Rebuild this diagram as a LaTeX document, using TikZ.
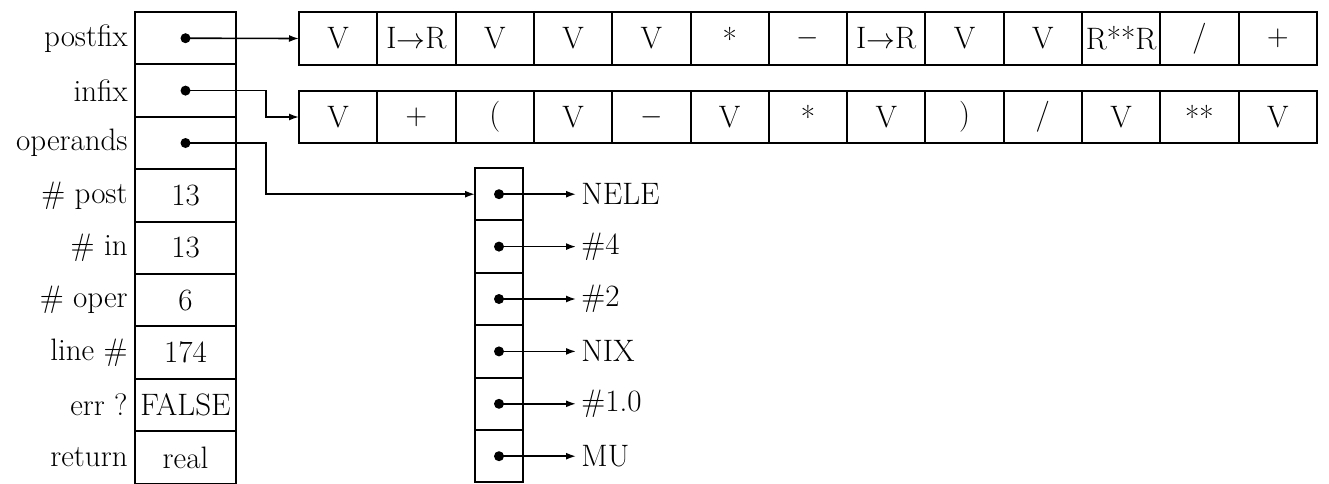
\documentclass[tikz,border=0pt]{standalone}
\usetikzlibrary{positioning,arrows.meta}
\begin{document}
\begin{tikzpicture}[%
	x=0.5pt, y=-0.5pt,
	every node/.style = {font=\fontsize{15.5}{18}\selectfont},
	cell/.style = {draw, line width=1pt, inner sep=0pt, outer sep=0pt, minimum height=26.2pt},
	slot/.style = {cell, minimum width=50.5pt},
	tok/.style = {cell, minimum width=39.15pt},
	opnd/.style = {cell, minimum width=24pt},
	fieldname/.style = {inner sep=0pt},
	target/.style = {inner sep=2.5pt, anchor=west},
	ptr/.style = {line width=0.8pt, -{Latex[length=5pt,width=3.5pt]}},
	dot/.style = {fill=black}
	]
  \clip (0,0) rectangle (1329,483);
  \coordinate (r0) at (185.5,12);
  \coordinate (p0) at (299,38.5);
  \coordinate (i0) at (299,117);
  \coordinate (o0) at (499,168);
  \coordinate (kink) at (266,0);
  % record of the expression
  \foreach \lbl/\val [count=\i, evaluate=\i as \j using int(\i-1)] in
	{postfix/{}, infix/{}, operands/{}, \# post/13, \# in/13, \# oper/6, line \#/174, err ?/FALSE, return/real}
	{
	\node [slot, below=0pt of r\j] (r\i) {\val};
	\node [fieldname, left=3.5pt of r\i] (n\i) {\lbl};
	}
  % postfix and infix token arrays
  \foreach \tk [count=\i, evaluate=\i as \j using int(\i-1)] in
	{V, I$\to$R, V, V, V, *, $-$, I$\to$R, V, V, R**R, /, $+$}
	\node [tok, right=0pt of p\j] (p\i) {\tk};
  \foreach \tk [count=\i, evaluate=\i as \j using int(\i-1)] in
	{V, $+$, {(}, V, $-$, V, *, V, {)}, /, V, **, V}
	\node [tok, right=0pt of i\j] (i\i) {\tk};
  % operand list
  \foreach \nm [count=\i, evaluate=\i as \j using int(\i-1)] in
	{NELE, \#4, \#2, NIX, \#1.0, MU}
	{
	\node [opnd, below=0pt of o\j] (o\i) {};
	\node [target, right=26.5pt of o\i] (t\i) {\nm};
	\draw [ptr] (o\i.center) -- (t\i.west);
	\fill [dot] (o\i.center) circle [radius=2.5pt];
	}
  \draw [ptr] (r1.center) -- (p1.west);
  \draw [ptr] (r2.center) -- (r2.center -| kink) |- (i1.west);
  \draw [ptr] (r3.center) -- (r3.center -| kink) |- (o1.west);
  \foreach \i in {1,2,3}
	\fill [dot] (r\i.center) circle [radius=2.5pt];
\end{tikzpicture}
\end{document}
